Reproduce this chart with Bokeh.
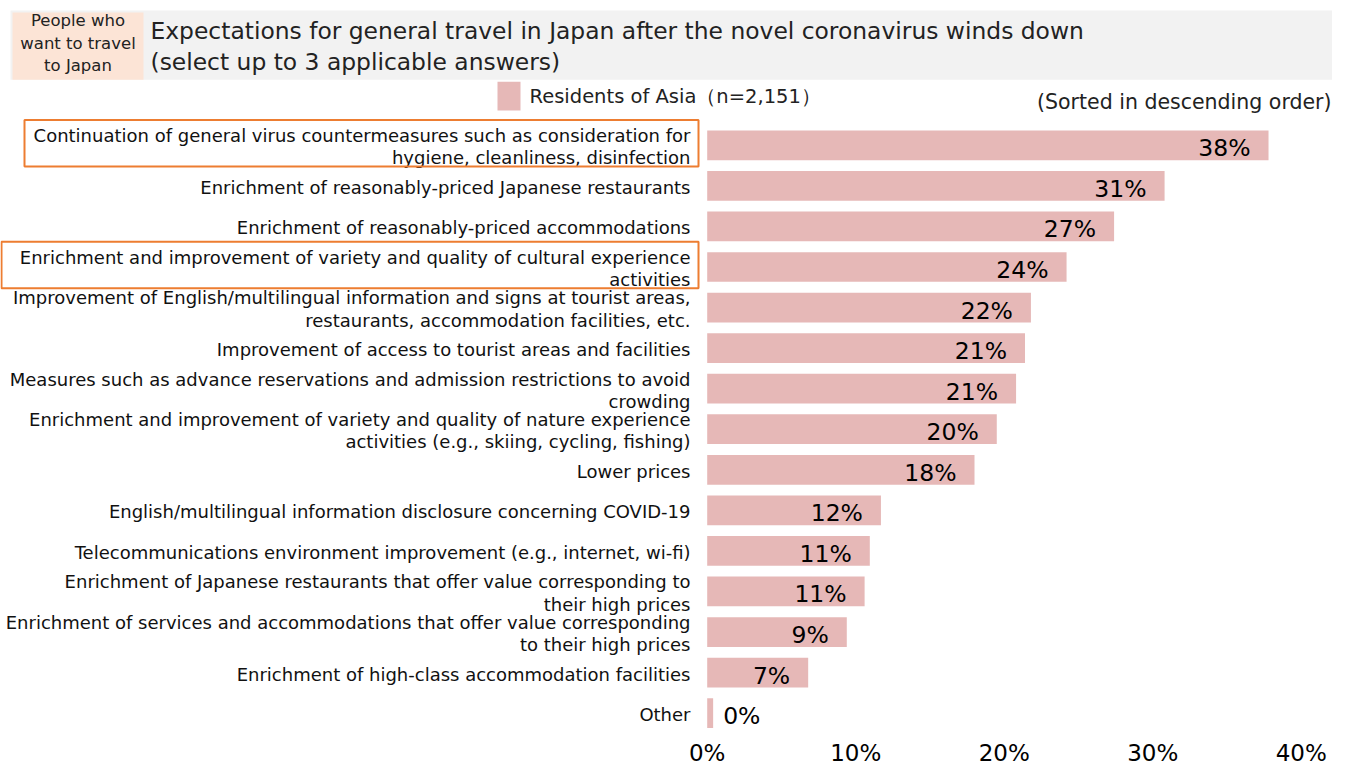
from bokeh.plotting import figure
from bokeh.models import Range1d, FixedTicker, ColumnDataSource
from bokeh.embed import file_html
from bokeh.resources import INLINE
from bokeh.core.properties import value, field

# ---------------- data ----------------
categories = [
    "Continuation of general virus countermeasures such as consideration for\nhygiene, cleanliness, disinfection",
    "Enrichment of reasonably-priced Japanese restaurants",
    "Enrichment of reasonably-priced accommodations",
    "Enrichment and improvement of variety and quality of cultural experience\nactivities",
    "Improvement of English/multilingual information and signs at tourist areas,\nrestaurants, accommodation facilities, etc.",
    "Improvement of access to tourist areas and facilities",
    "Measures such as advance reservations and admission restrictions to avoid\ncrowding",
    "Enrichment and improvement of variety and quality of nature experience\nactivities (e.g., skiing, cycling, fishing)",
    "Lower prices",
    "English/multilingual information disclosure concerning COVID-19",
    "Telecommunications environment improvement (e.g., internet, wi-fi)",
    "Enrichment of Japanese restaurants that offer value corresponding to\ntheir high prices",
    "Enrichment of services and accommodations that offer value corresponding\nto their high prices",
    "Enrichment of high-class accommodation facilities",
    "Other",
]
values = [37.8, 30.8, 27.4, 24.2, 21.8, 21.4, 20.8, 19.5, 18.0, 11.7, 10.95, 10.6, 9.4, 6.8, 0.4]
value_labels = ["38%", "31%", "27%", "24%", "22%", "21%", "21%", "20%", "18%",
                "12%", "11%", "11%", "9%", "7%", "0%"]
tick_values = [0, 10, 20, 30, 40]
tick_labels = ["0%", "10%", "20%", "30%", "40%"]
highlighted_rows = [0, 3]
series_name = "Residents of Asia（n=2,151）"
title_text = ("Expectations for general travel in Japan after the novel coronavirus winds down\n"
              "(select up to 3 applicable answers)")
badge_text = "People who\nwant to travel\nto Japan"
note_text = "(Sorted in descending order)"

# ---------------- layout ----------------
FONT = value("DejaVu Sans")
BAR = "#e6b8b7"
W, H = 1332, 768
BOTTOM = 32
FH = H - BOTTOM
PXU = 14.85      # px per percent
X0 = 706.7       # canvas px of 0%
ROW0 = 146.2     # canvas px of first row centre
ROW = 40.95      # px per row

x_start = -X0 / PXU
x_end = (W - X0) / PXU
y_top = -ROW0 / ROW
y_bot = (FH - ROW0) / ROW


def dx(c):
    return x_start + c / PXU


def dy(c):
    return y_top + c / ROW


p = figure(width=W, height=H, x_range=Range1d(x_start, x_end), y_range=Range1d(y_bot, y_top),
           output_backend="svg", toolbar_location=None, y_axis_location=None,
           min_border_left=0, min_border_right=0, min_border_top=0, min_border_bottom=BOTTOM,
           outline_line_color=None, background_fill_color="white", border_fill_color="white")
p.xgrid.visible = False
p.ygrid.visible = False

# header
p.quad(left=[dx(10)], right=[dx(W)], top=[dy(10)], bottom=[dy(80)], fill_color="#f2f2f2", line_color=None)
p.quad(left=[dx(12)], right=[dx(143)], top=[dy(12)], bottom=[dy(80)], fill_color="#fce4d6", line_color=None)
p.text(x=[dx(77.5)], y=[dy(43)], text=[badge_text], text_align="center", text_baseline="middle",
       text_font=FONT, text_font_size="16.5px", text_line_height=1.2, text_color="#222222")
p.text(x=[dx(150)], y=[dy(46)], text=[title_text], text_align="left", text_baseline="middle",
       text_font=FONT, text_font_size="23.4px", text_line_height=1.11, text_color="#222222")

# legend
p.quad(left=[dx(497)], right=[dx(520)], top=[dy(82)], bottom=[dy(111)], fill_color=BAR, line_color=None)
p.text(x=[dx(529)], y=[dy(97)], text=[series_name], text_align="left", text_baseline="middle",
       text_font=FONT, text_font_size="19.5px", text_color="#222222")
p.text(x=[dx(W - 1)], y=[dy(102)], text=[note_text], text_align="right", text_baseline="middle",
       text_font=FONT, text_font_size="20.5px", text_color="#222222")

# bars
rows = list(range(len(categories)))
inside = [v >= 3 for v in values]
src = ColumnDataSource(dict(
    y=rows, right=values, cat=categories, lab=value_labels,
    align=["right" if i else "left" for i in inside],
    xo=[-18 if i else 10 for i in inside],
))
p.hbar(y="y", left=0, right="right", height=0.733, source=src, fill_color=BAR, line_color=None)
p.text(x="right", y="y", text="lab", x_offset=field("xo"), y_offset=3, text_align=field("align"),
       text_baseline="middle", source=src, text_font=FONT, text_font_size="23.5px", text_color="black")
p.text(x=0, y="y", text="cat", x_offset=-16.7, y_offset=1.5, text_align="right", text_baseline="middle",
       source=src, text_font=FONT, text_font_size="18px", text_line_height=1.06, text_color="#111111")

# highlight boxes
box_left = {0: 24, 3: 1}
p.quad(left=[dx(box_left[r]) for r in highlighted_rows],
       right=[dx(698)] * len(highlighted_rows),
       top=[r - 25.5 / ROW for r in highlighted_rows],
       bottom=[r + 21.5 / ROW for r in highlighted_rows],
       fill_alpha=0, line_color="#ed7d31", line_width=2)

# axis
ax = p.xaxis[0]
ax.ticker = FixedTicker(ticks=tick_values)
ax.major_label_overrides = dict(zip(tick_values, tick_labels))
ax.major_label_text_font = "DejaVu Sans"
ax.major_label_text_font_size = "23px"
ax.major_label_text_color = "black"
ax.major_label_standoff = 4
ax.axis_line_color = None
ax.major_tick_line_color = None
ax.minor_tick_line_color = None

open("out.html", "w").write(file_html(p, INLINE))
